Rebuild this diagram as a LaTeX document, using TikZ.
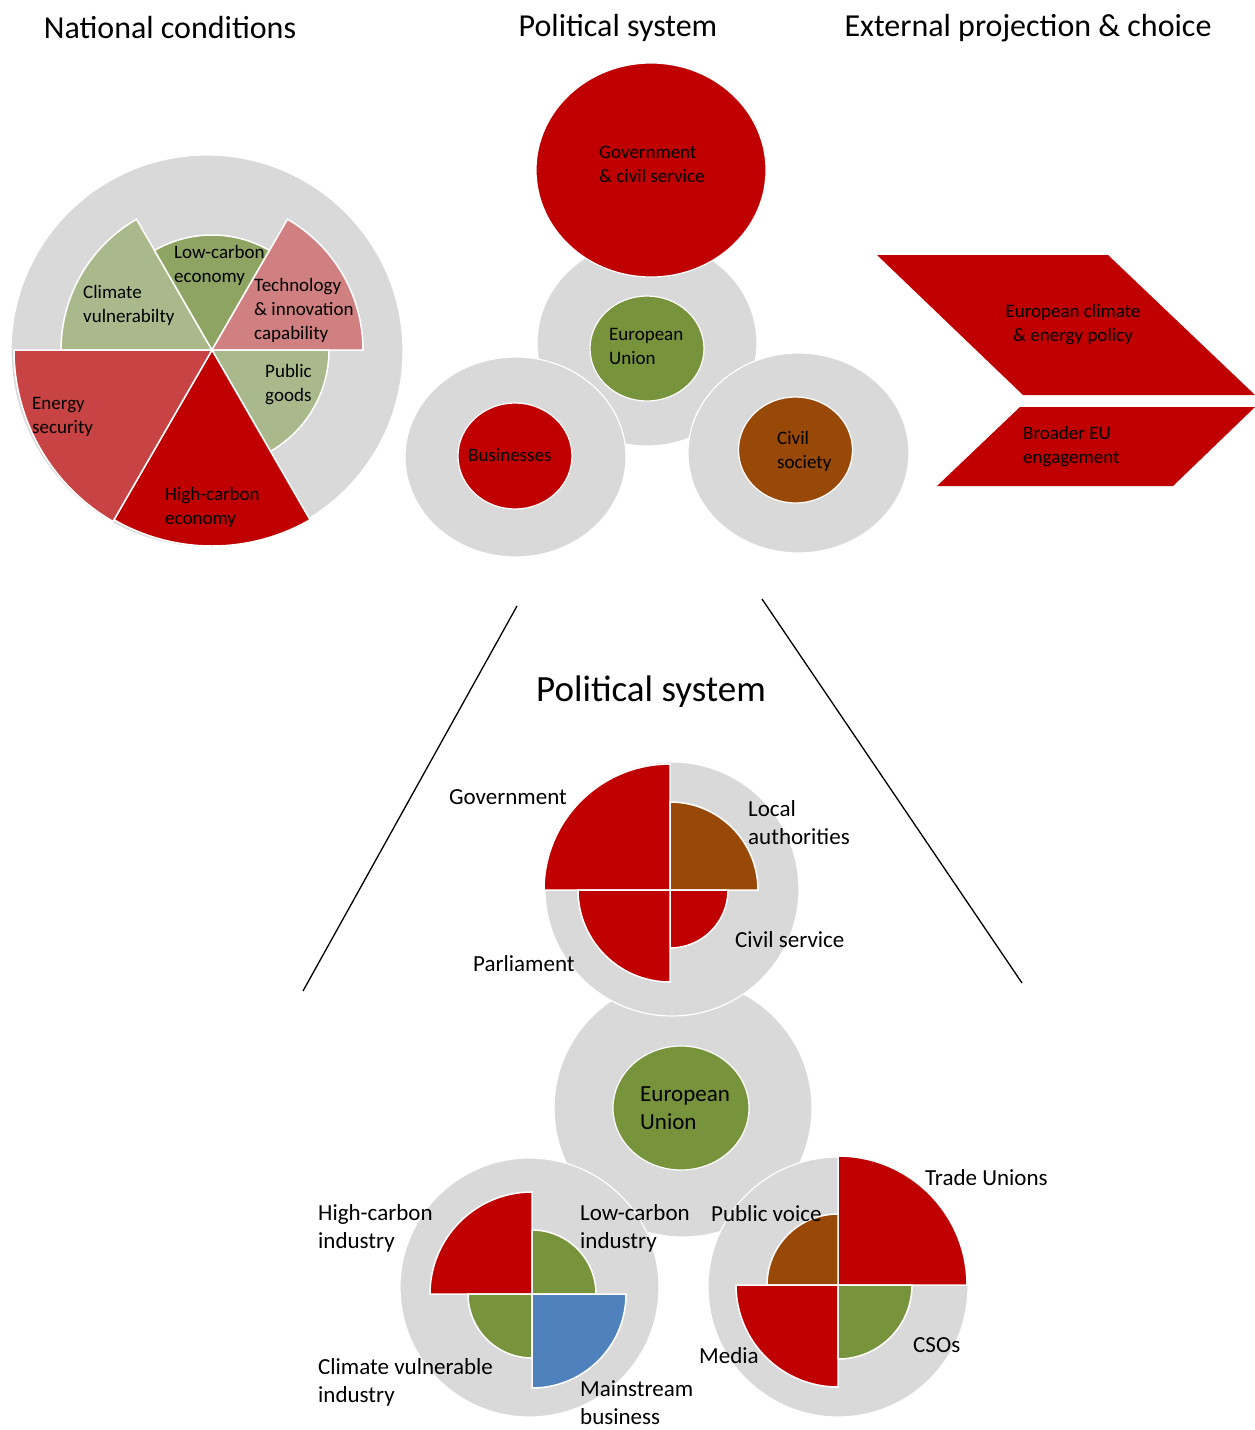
\documentclass[tikz,border=0pt]{standalone}
\usepackage{fontspec}
\setmainfont{Carlito}
\definecolor{cgray}{HTML}{D9D9D9}
\definecolor{cred}{HTML}{C00000}
\definecolor{cgreen}{HTML}{77933C}
\definecolor{cbrown}{HTML}{984807}
\definecolor{cblue}{HTML}{4F81BD}
\definecolor{clgreen}{HTML}{AAB98B}
\definecolor{cmgreen}{HTML}{8EA462}
\definecolor{cpink}{HTML}{D08080}
\definecolor{cmred}{HTML}{C84343}
\newcommand\mywedge[5]{\fill[wedge, fill=#1] (#2) -- ++(#3:#5) arc[start angle=#3, end angle=#4, radius=#5] -- cycle;}
\begin{document}
\begin{tikzpicture}[x=1pt,y=1pt,
 disc/.style={fill=cgray, draw=white, line width=1.2pt},
 wedge/.style={draw=white, line width=1.5pt},
 lbl/.style={anchor=west, inner sep=0pt, align=left, font=\fontsize{19}{24}\selectfont},
 lbl2/.style={anchor=west, inner sep=0pt, align=left, font=\fontsize{23}{28}\selectfont},
 title/.style={inner sep=0pt, font=\fontsize{32}{38}\selectfont},
 bigtitle/.style={inner sep=0pt, font=\fontsize{37}{44}\selectfont},
 chev/.style={fill=cred},
 conn/.style={draw=black, line width=1.3pt},
]
\useasboundingbox (0,0) rectangle (1255,-1430);

% titles
\node[title] (t1) at (170,-28) {National conditions};
\node[title] (t2) at (618,-28) {Political system};
\node[title] (t3) at (1028,-28) {External projection \& choice};

% ---------- National conditions pie ----------
\fill[disc] (207,-351) circle[radius=196];
\coordinate (P) at (212,-350);
\mywedge{clgreen}{P}{120}{180}{151}
\mywedge{cmgreen}{P}{60}{120}{115}
\mywedge{cpink}{P}{0}{60}{151}
\mywedge{clgreen}{P}{-60}{0}{117}
\mywedge{cred}{P}{-120}{-60}{196}
\mywedge{cmred}{P}{180}{240}{198}
\node[lbl] (lowc) at (174,-265) {Low-carbon\\economy};
\node[lbl] (climv) at (83,-305) {Climate\\vulnerabilty};
\node[lbl] (tech) at (254,-310) {Technology\\\& innovation\\capability};
\node[lbl] (pubg) at (265,-385) {Public\\goods};
\node[lbl] (ensec) at (32,-417) {Energy\\security};
\node[lbl] (highc) at (165,-507) {High-carbon\\economy};

% ---------- Political system (top) ----------
\fill[disc] (647,-343) ellipse[x radius=110, y radius=103];
\fill[disc, fill=cred] (651,-170) ellipse[x radius=115, y radius=107];
\fill[disc] (515.5,-457) ellipse[x radius=110.5, y radius=100];
\fill[disc] (798.5,-453) ellipse[x radius=110.5, y radius=100];
\fill[disc, fill=cgreen] (647,-348.5) ellipse[x radius=57, y radius=52.5];
\fill[disc, fill=cred] (515,-456) ellipse[x radius=57, y radius=53];
\fill[disc, fill=cbrown] (795.5,-450) ellipse[x radius=57, y radius=53];
\node[lbl] (gov) at (599,-164) {Government\\\& civil service};
\node[lbl] (eu) at (609,-346) {European\\Union};
\node[lbl] (bus) at (468,-455) {Businesses};
\node[lbl] (civ) at (777,-451) {Civil\\society};

% ---------- External projection ----------
\fill[chev] (877,-255) -- (1108,-255) -- (1255,-395) -- (1023,-395) -- cycle;
\fill[chev] (1020,-407) -- (1255,-407) -- (1173,-486) -- (937,-486) -- cycle;
\node[lbl, anchor=center, align=center] (ecep) at (1073,-325) {European climate\\\& energy policy};
\node[lbl] (beu) at (1023,-447) {Broader EU\\engagement};

% ---------- zoom lines ----------
\coordinate (l1a) at (517,-606);
\coordinate (l1b) at (303,-991);
\coordinate (l2a) at (762,-599);
\coordinate (l2b) at (1022,-983);
\draw[conn] (l1a) -- (l1b);
\draw[conn] (l2a) -- (l2b);

\node[bigtitle] (t4) at (651,-692) {Political system};

% ---------- Political system (bottom) ----------
\fill[disc] (683,-1108) circle[radius=129];
\fill[disc] (672,-889) circle[radius=127];
\fill[disc] (529.5,-1287.5) circle[radius=129.5];
\fill[disc] (838,-1287) circle[radius=130];
\fill[disc, fill=cgreen] (681,-1108) ellipse[x radius=68, y radius=62];

\coordinate (G) at (670,-890);
\mywedge{cred}{G}{90}{180}{126}
\mywedge{cbrown}{G}{0}{90}{88}
\mywedge{cred}{G}{270}{360}{58}
\mywedge{cred}{G}{180}{270}{92}

\coordinate (B) at (532,-1294);
\mywedge{cred}{B}{90}{180}{102}
\mywedge{cgreen}{B}{0}{90}{64}
\mywedge{cgreen}{B}{180}{270}{64}
\mywedge{cblue}{B}{270}{360}{94}

\coordinate (C) at (838,-1285);
\mywedge{cred}{C}{0}{90}{129}
\mywedge{cbrown}{C}{90}{180}{71}
\mywedge{cred}{C}{180}{270}{102}
\mywedge{cgreen}{C}{270}{360}{74}

\node[lbl2] (eu2) at (640,-1108) {European\\Union};
\node[lbl2] (govl) at (449,-797) {Government};
\node[lbl2] (local) at (748,-823) {Local\\authorities};
\node[lbl2] (cs) at (735,-940) {Civil service};
\node[lbl2] (parl) at (473,-964) {Parliament};
\node[lbl2] (hci) at (318,-1228) {High-carbon\\industry};
\node[lbl2] (lci) at (580,-1228) {Low-carbon\\industry};
\node[lbl2] (cvi) at (318,-1382) {Climate vulnerable\\industry};
\node[lbl2] (msb) at (580,-1403) {Mainstream\\business};
\node[lbl2] (tu) at (925,-1178) {Trade Unions};
\node[lbl2] (pv) at (711,-1214) {Public voice};
\node[lbl2] (media) at (699,-1356) {Media};
\node[lbl2] (cso) at (913,-1345) {CSOs};
\end{tikzpicture}
\end{document}
